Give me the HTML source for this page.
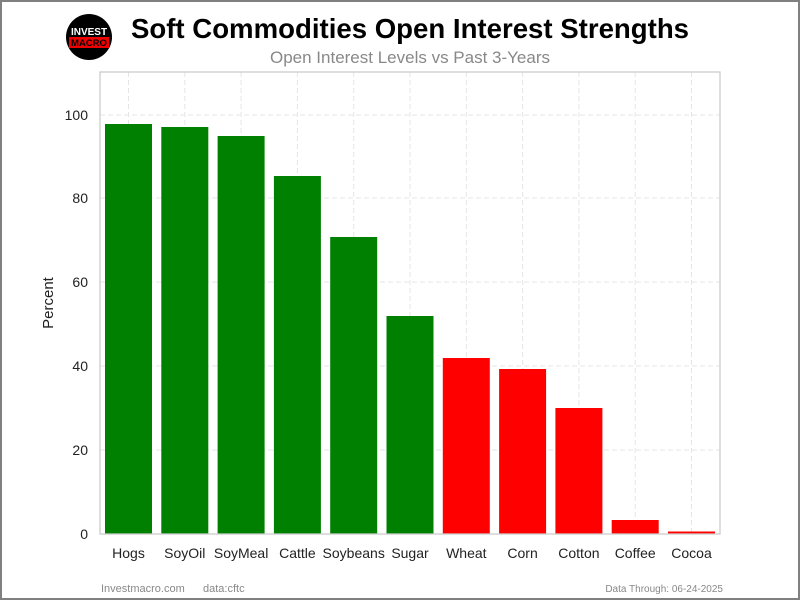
<!DOCTYPE html>
<html><head><style>body{margin:0;background:#fff}svg{display:block}</style></head><body>
<svg width="800" height="600" xmlns="http://www.w3.org/2000/svg" font-family="Liberation Sans, sans-serif">
<rect x="1" y="1" width="798" height="598" fill="#fff" stroke="#808080" stroke-width="2"/>
<circle cx="89" cy="37" r="23" fill="#000"/>
<text x="89" y="35" font-size="10" font-weight="bold" fill="#fff" text-anchor="middle">INVEST</text>
<rect x="69" y="37" width="40" height="11" fill="#e00"/>
<text x="89" y="46" font-size="9.5" font-weight="bold" fill="#000" text-anchor="middle">MACRO</text>
<text x="410" y="38" font-size="27.6" font-weight="bold" text-anchor="middle" fill="#000">Soft Commodities Open Interest Strengths</text>
<text x="410" y="63" font-size="17" text-anchor="middle" fill="#888">Open Interest Levels vs Past 3-Years</text>
<g stroke="#e5e5e5" stroke-dasharray="5,3" stroke-width="1">
<line x1="100" x2="720" y1="534" y2="534"/><line x1="100" x2="720" y1="450" y2="450"/><line x1="100" x2="720" y1="366" y2="366"/><line x1="100" x2="720" y1="282" y2="282"/><line x1="100" x2="720" y1="198" y2="198"/><line x1="100" x2="720" y1="115" y2="115"/>
<line x1="128.5" x2="128.5" y1="72" y2="534"/><line x1="184.8" x2="184.8" y1="72" y2="534"/><line x1="241.1" x2="241.1" y1="72" y2="534"/><line x1="297.4" x2="297.4" y1="72" y2="534"/><line x1="353.7" x2="353.7" y1="72" y2="534"/><line x1="410" x2="410" y1="72" y2="534"/><line x1="466.3" x2="466.3" y1="72" y2="534"/><line x1="522.6" x2="522.6" y1="72" y2="534"/><line x1="578.9" x2="578.9" y1="72" y2="534"/><line x1="635.2" x2="635.2" y1="72" y2="534"/><line x1="691.5" x2="691.5" y1="72" y2="534"/>
</g>
<g>
<rect x="105" y="124" width="47" height="410" fill="#008000"/>
<rect x="161.3" y="127" width="47" height="407" fill="#008000"/>
<rect x="217.6" y="136" width="47" height="398" fill="#008000"/>
<rect x="273.9" y="176" width="47" height="358" fill="#008000"/>
<rect x="330.2" y="237" width="47" height="297" fill="#008000"/>
<rect x="386.5" y="316" width="47" height="218" fill="#008000"/>
<rect x="442.8" y="358" width="47" height="176" fill="#ff0000"/>
<rect x="499.1" y="369" width="47" height="165" fill="#ff0000"/>
<rect x="555.4" y="408" width="47" height="126" fill="#ff0000"/>
<rect x="611.7" y="520" width="47" height="14" fill="#ff0000"/>
<rect x="668" y="531.5" width="47" height="2.5" fill="#ff0000"/>
</g>
<rect x="100" y="72" width="620" height="462" fill="none" stroke="#ccc" stroke-width="1.3"/>
<g font-size="14" fill="#222" text-anchor="end">
<text x="88" y="539">0</text><text x="88" y="455">20</text><text x="88" y="371">40</text><text x="88" y="287">60</text><text x="88" y="203">80</text><text x="88" y="120">100</text>
</g>
<text transform="translate(53,303) rotate(-90)" font-size="15" fill="#222" text-anchor="middle">Percent</text>
<g font-size="14" fill="#222" text-anchor="middle">
<text x="128.5" y="558">Hogs</text><text x="184.8" y="558">SoyOil</text><text x="241.1" y="558">SoyMeal</text><text x="297.4" y="558">Cattle</text><text x="353.7" y="558">Soybeans</text><text x="410" y="558">Sugar</text><text x="466.3" y="558">Wheat</text><text x="522.6" y="558">Corn</text><text x="578.9" y="558">Cotton</text><text x="635.2" y="558">Coffee</text><text x="691.5" y="558">Cocoa</text>
</g>
<text x="101" y="592" font-size="11" fill="#888">Investmacro.com</text>
<text x="203" y="592" font-size="11" fill="#888">data:cftc</text>
<text x="723" y="592" font-size="10" fill="#888" text-anchor="end">Data Through: 06-24-2025</text>
</svg>
</body></html>
